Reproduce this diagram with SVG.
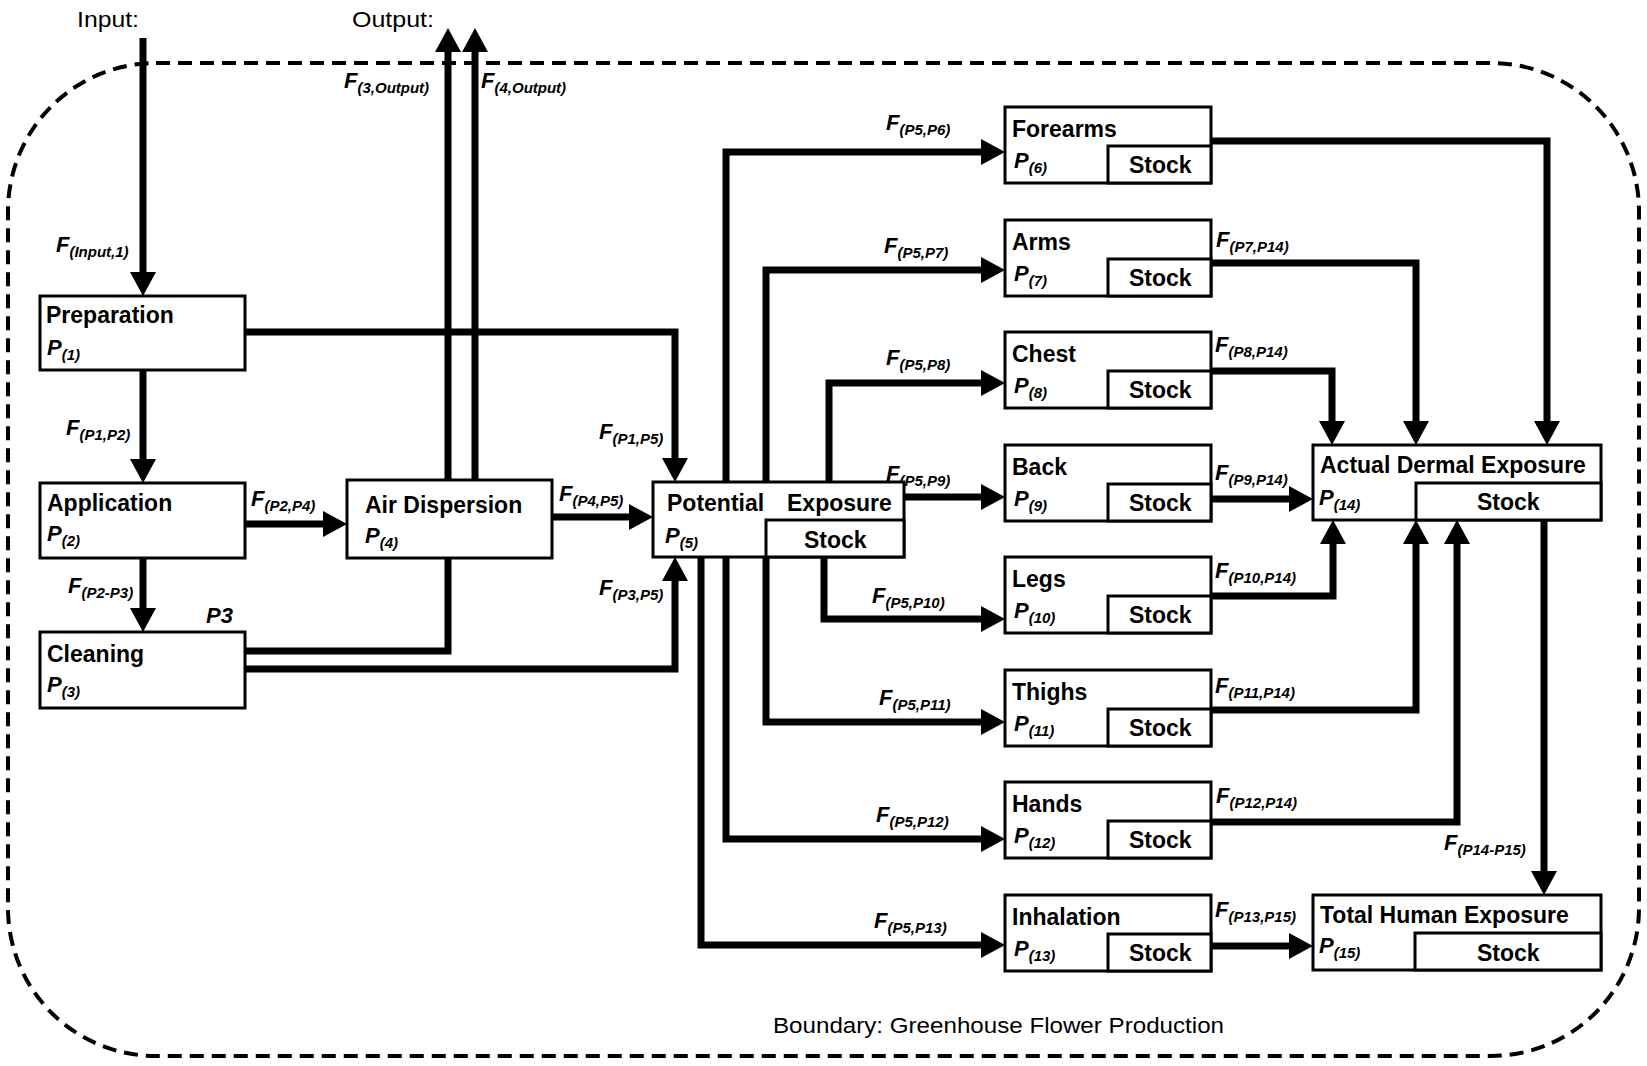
<svg xmlns="http://www.w3.org/2000/svg" width="1647" height="1066" viewBox="0 0 1647 1066">
<defs>
<marker id="ah" markerUnits="userSpaceOnUse" markerWidth="24" markerHeight="26" refX="14" refY="13" orient="auto">
<path d="M0,0 L24,13 L0,26 z" fill="#000"/>
</marker>
<style>
.bd{fill:none;stroke:#000;stroke-width:4;stroke-dasharray:14 8}
.box{fill:#fff;stroke:#000;stroke-width:3}
.ln{fill:none;stroke:#000;stroke-width:7;stroke-linejoin:miter;marker-end:url(#ah)}
.t{font-family:"Liberation Sans",Arial,sans-serif;font-weight:bold;font-size:23px;fill:#000}
.pv{font-family:"Liberation Sans",Arial,sans-serif;font-weight:bold;font-style:italic;font-size:22px;fill:#000}
.sb{font-weight:bold;font-style:italic;font-size:15px}
.fs{font-weight:bold;font-style:italic;font-size:15px}
.pl{font-family:"Liberation Sans",Arial,sans-serif;font-size:22px;fill:#000}
</style>
</defs>
<rect width="1647" height="1066" fill="#fff"/>
<rect class="bd" x="8" y="63" width="1631" height="993" rx="148" ry="148"/>
<g id="texts">
<text class="pl" x="77" y="27" textLength="62" lengthAdjust="spacingAndGlyphs">Input:</text>
<text class="pl" x="352" y="27" textLength="82" lengthAdjust="spacingAndGlyphs">Output:</text>
<text class="pl" x="773" y="1033" textLength="451" lengthAdjust="spacingAndGlyphs">Boundary: Greenhouse Flower Production</text>
</g>
<g id="connectors">
<path class="ln" d="M143,38 V286"/>
<path class="ln" d="M245,651 H448 V38"/>
<path class="ln" d="M475,480 V38"/>
<path class="ln" d="M143,370 V473"/>
<path class="ln" d="M143,558 V622"/>
<path class="ln" d="M245,524 H337"/>
<path class="ln" d="M552,517 H643"/>
<path class="ln" d="M245,332 H675 V472"/>
<path class="ln" d="M245,669 H675 V567"/>
<path class="ln" d="M726,482 V152 H995"/>
<path class="ln" d="M766,482 V270 H995"/>
<path class="ln" d="M829,482 V383 H995"/>
<path class="ln" d="M904,497 H995"/>
<path class="ln" d="M824,557 V619 H995"/>
<path class="ln" d="M766,557 V722 H995"/>
<path class="ln" d="M726,557 V839 H995"/>
<path class="ln" d="M701,557 V945 H995"/>
<path class="ln" d="M1211,141 H1547 V435"/>
<path class="ln" d="M1211,263 H1416 V435"/>
<path class="ln" d="M1211,371 H1332 V435"/>
<path class="ln" d="M1211,499 H1303"/>
<path class="ln" d="M1211,596 H1333 V530"/>
<path class="ln" d="M1211,710 H1416 V530"/>
<path class="ln" d="M1211,822 H1457 V530"/>
<path class="ln" d="M1544,520 V885"/>
<path class="ln" d="M1211,946 H1303"/>
</g>
<g id="flow-labels">
<text class="pv" x="56" y="252">F<tspan class="fs" dy="5">(Input,1)</tspan></text>
<text class="pv" x="344" y="88">F<tspan class="fs" dy="5">(3,Output)</tspan></text>
<text class="pv" x="481" y="88">F<tspan class="fs" dy="5">(4,Output)</tspan></text>
<text class="pv" x="66" y="435">F<tspan class="fs" dy="5">(P1,P2)</tspan></text>
<text class="pv" x="68" y="593">F<tspan class="fs" dy="5">(P2-P3)</tspan></text>
<text class="pv" x="206" y="623">P3</text>
<text class="pv" x="251" y="506">F<tspan class="fs" dy="5">(P2,P4)</tspan></text>
<text class="pv" x="559" y="501">F<tspan class="fs" dy="5">(P4,P5)</tspan></text>
<text class="pv" x="599" y="439">F<tspan class="fs" dy="5">(P1,P5)</tspan></text>
<text class="pv" x="599" y="595">F<tspan class="fs" dy="5">(P3,P5)</tspan></text>
<text class="pv" x="886" y="130">F<tspan class="fs" dy="5">(P5,P6)</tspan></text>
<text class="pv" x="884" y="253">F<tspan class="fs" dy="5">(P5,P7)</tspan></text>
<text class="pv" x="886" y="365">F<tspan class="fs" dy="5">(P5,P8)</tspan></text>
<text class="pv" x="886" y="481">F<tspan class="fs" dy="5">(P5,P9)</tspan></text>
<text class="pv" x="872" y="603">F<tspan class="fs" dy="5">(P5,P10)</tspan></text>
<text class="pv" x="879" y="705">F<tspan class="fs" dy="5">(P5,P11)</tspan></text>
<text class="pv" x="876" y="822">F<tspan class="fs" dy="5">(P5,P12)</tspan></text>
<text class="pv" x="874" y="928">F<tspan class="fs" dy="5">(P5,P13)</tspan></text>
<text class="pv" x="1216" y="247">F<tspan class="fs" dy="5">(P7,P14)</tspan></text>
<text class="pv" x="1215" y="352">F<tspan class="fs" dy="5">(P8,P14)</tspan></text>
<text class="pv" x="1215" y="480">F<tspan class="fs" dy="5">(P9,P14)</tspan></text>
<text class="pv" x="1215" y="578">F<tspan class="fs" dy="5">(P10,P14)</tspan></text>
<text class="pv" x="1215" y="693">F<tspan class="fs" dy="5">(P11,P14)</tspan></text>
<text class="pv" x="1216" y="803">F<tspan class="fs" dy="5">(P12,P14)</tspan></text>
<text class="pv" x="1215" y="917">F<tspan class="fs" dy="5">(P13,P15)</tspan></text>
<text class="pv" x="1444" y="850">F<tspan class="fs" dy="5">(P14-P15)</tspan></text>
</g>
<g id="p1">
<rect class="box" x="40" y="296" width="205" height="74"/>
<text class="t" x="46" y="323">Preparation</text>
<text class="pv" x="47" y="355">P<tspan class="sb" dy="5">(1)</tspan></text>
</g>
<g id="p2">
<rect class="box" x="40" y="483" width="205" height="75"/>
<text class="t" x="47" y="511">Application</text>
<text class="pv" x="47" y="541">P<tspan class="sb" dy="5">(2)</tspan></text>
</g>
<g id="p3">
<rect class="box" x="40" y="632" width="205" height="76"/>
<text class="t" x="47" y="662">Cleaning</text>
<text class="pv" x="47" y="692">P<tspan class="sb" dy="5">(3)</tspan></text>
</g>
<g id="p4">
<rect class="box" x="347" y="480" width="205" height="78"/>
<text class="t" x="365" y="513">Air Dispersion</text>
<text class="pv" x="365" y="543">P<tspan class="sb" dy="5">(4)</tspan></text>
</g>
<g id="p5">
<rect class="box" x="653" y="482" width="251" height="75"/>
<rect class="box" x="766" y="520" width="138" height="37"/>
<text class="t" x="667" y="511">Potential</text>
<text class="t" x="787" y="511">Exposure</text>
<text class="pv" x="665" y="543">P<tspan class="sb" dy="5">(5)</tspan></text>
<text class="t" x="804" y="548">Stock</text>
</g>
<g id="p6">
<rect class="box" x="1005" y="107" width="206" height="76"/>
<rect class="box" x="1108" y="146" width="103" height="37"/>
<text class="t" x="1012" y="137">Forearms</text>
<text class="pv" x="1014" y="168">P<tspan class="sb" dy="5">(6)</tspan></text>
<text class="t" x="1129" y="173">Stock</text>
</g>
<g id="p7">
<rect class="box" x="1005" y="220" width="206" height="76"/>
<rect class="box" x="1108" y="259" width="103" height="37"/>
<text class="t" x="1012" y="250">Arms</text>
<text class="pv" x="1014" y="281">P<tspan class="sb" dy="5">(7)</tspan></text>
<text class="t" x="1129" y="286">Stock</text>
</g>
<g id="p8">
<rect class="box" x="1005" y="332" width="206" height="76"/>
<rect class="box" x="1108" y="371" width="103" height="37"/>
<text class="t" x="1012" y="362">Chest</text>
<text class="pv" x="1014" y="393">P<tspan class="sb" dy="5">(8)</tspan></text>
<text class="t" x="1129" y="398">Stock</text>
</g>
<g id="p9">
<rect class="box" x="1005" y="445" width="206" height="76"/>
<rect class="box" x="1108" y="484" width="103" height="37"/>
<text class="t" x="1012" y="475">Back</text>
<text class="pv" x="1014" y="506">P<tspan class="sb" dy="5">(9)</tspan></text>
<text class="t" x="1129" y="511">Stock</text>
</g>
<g id="p10">
<rect class="box" x="1005" y="557" width="206" height="76"/>
<rect class="box" x="1108" y="596" width="103" height="37"/>
<text class="t" x="1012" y="587">Legs</text>
<text class="pv" x="1014" y="618">P<tspan class="sb" dy="5">(10)</tspan></text>
<text class="t" x="1129" y="623">Stock</text>
</g>
<g id="p11">
<rect class="box" x="1005" y="670" width="206" height="76"/>
<rect class="box" x="1108" y="709" width="103" height="37"/>
<text class="t" x="1012" y="700">Thighs</text>
<text class="pv" x="1014" y="731">P<tspan class="sb" dy="5">(11)</tspan></text>
<text class="t" x="1129" y="736">Stock</text>
</g>
<g id="p12">
<rect class="box" x="1005" y="782" width="206" height="76"/>
<rect class="box" x="1108" y="821" width="103" height="37"/>
<text class="t" x="1012" y="812">Hands</text>
<text class="pv" x="1014" y="843">P<tspan class="sb" dy="5">(12)</tspan></text>
<text class="t" x="1129" y="848">Stock</text>
</g>
<g id="p13">
<rect class="box" x="1005" y="895" width="206" height="76"/>
<rect class="box" x="1108" y="934" width="103" height="37"/>
<text class="t" x="1012" y="925">Inhalation</text>
<text class="pv" x="1014" y="956">P<tspan class="sb" dy="5">(13)</tspan></text>
<text class="t" x="1129" y="961">Stock</text>
</g>
<g id="p14">
<rect class="box" x="1313" y="445" width="288" height="75"/>
<rect class="box" x="1416" y="483" width="185" height="37"/>
<text class="t" x="1320" y="473">Actual Dermal Exposure</text>
<text class="pv" x="1319" y="505">P<tspan class="sb" dy="5">(14)</tspan></text>
<text class="t" x="1477" y="510">Stock</text>
</g>
<g id="p15">
<rect class="box" x="1313" y="895" width="288" height="75"/>
<rect class="box" x="1415" y="933" width="186" height="37"/>
<text class="t" x="1320" y="923">Total Human Exposure</text>
<text class="pv" x="1319" y="953">P<tspan class="sb" dy="5">(15)</tspan></text>
<text class="t" x="1477" y="961">Stock</text>
</g>
</svg>
